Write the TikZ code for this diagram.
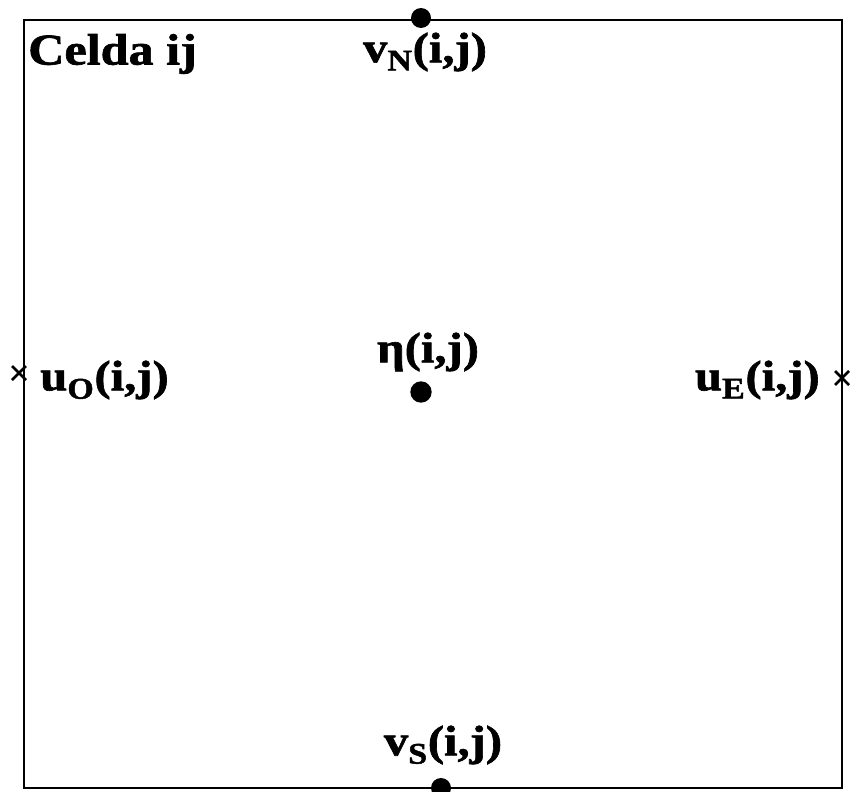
\documentclass[tikz,border=0pt]{standalone}
\usepackage{fontspec}
\setmainfont{Liberation Serif}
\newfontfamily\lblfont[FakeStretch=1.14, FakeBold=1.5]{Liberation Serif Bold}
\usetikzlibrary{calc, positioning}
\tikzset{
  lbl/.style={font=\lblfont\fontsize{32}{34}\selectfont, inner sep=0pt},
  punto/.style={fill=black, circle, inner sep=0pt, minimum size=15pt},
  cruz/.style={line width=2pt}
}
\begin{document}
\begin{tikzpicture}[x=0.75pt, y=-0.75pt]
        \useasboundingbox (0,0) rectangle (853,792);
        % celda
        \coordinate (nw) at (24,20);
        \coordinate (se) at (842,788);
        \draw[line width=1.5pt] (nw) rectangle (se);

        \node[lbl, anchor=west, font=\lblfont\fontsize{33}{36}\selectfont] (celda) at (28,54) {Celda ij};

        % puntos v
        \node[punto] (pN) at (421,18) {};
        \node[lbl] (vN) at (425,52) {v\textsubscript{N}(i,j)};
        \node[punto] (pS) at (441,788) {};
        \node[lbl] (vS) at (443,745) {v\textsubscript{S}(i,j)};

        % punto eta
        \node[punto, minimum size=16pt] (pC) at (421,392) {};
        \node[lbl] (eta) at (428,352) {η(i,j)};

        % cruces u
        \coordinate (cO) at (19,373);
        \draw[cruz] ($(cO)+(-7,-7)$) -- ($(cO)+(7,7)$);
        \draw[cruz] ($(cO)+(-7,7)$) -- ($(cO)+(7,-7)$);
        \node[lbl, anchor=west] (uO) at (40,380) {u\textsubscript{O}(i,j)};

        \coordinate (cE) at (842,378);
        \draw[cruz] ($(cE)+(-7,-7)$) -- ($(cE)+(7,7)$);
        \draw[cruz] ($(cE)+(-7,7)$) -- ($(cE)+(7,-7)$);
        \node[lbl, anchor=east] (uE) at (820,380) {u\textsubscript{E}(i,j)};
\end{tikzpicture}
\end{document}
